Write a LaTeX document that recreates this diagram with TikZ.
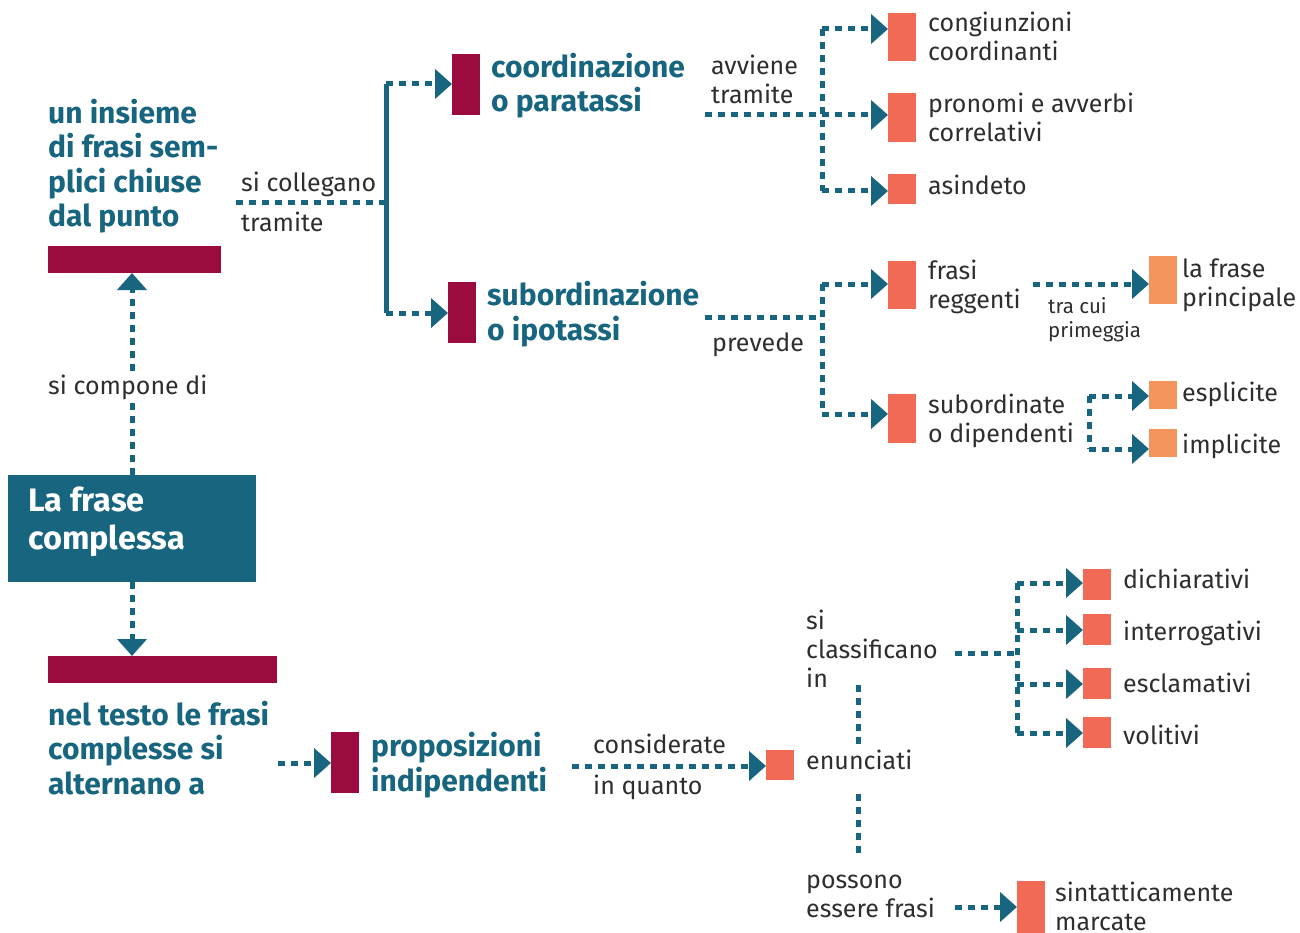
\documentclass[tikz,border=0pt]{standalone}
\usepackage{fontspec}
\setmainfont{Fira Sans}
\usetikzlibrary{arrows.meta}
\definecolor{cteal}{HTML}{17657E}
\definecolor{ccrim}{HTML}{9C0B3F}
\definecolor{csalm}{HTML}{F06A56}
\definecolor{corng}{HTML}{F5955E}
\definecolor{ctext}{HTML}{2E2E2E}
\tikzset{
  conn/.style={draw=cteal, line width=5pt, dash pattern=on 7pt off 6pt},
  arr/.style={conn, -{Triangle[length=17pt,width=29pt]}},
  solidl/.style={draw=cteal, line width=5pt},
  box/.style={inner sep=0pt, outer sep=0pt, anchor=north west, draw=none},
  crimbar/.style={box, fill=ccrim},
  salm/.style={box, fill=csalm},
  orng/.style={box, fill=corng},
  body/.style={anchor=base west, inner sep=0pt, align=left, text=ctext, yshift=-2.5pt, font=\fontsize{25}{29}\selectfont},
  small/.style={body, font=\fontsize{20.5}{24}\selectfont},
  head/.style={anchor=base west, inner sep=0pt, align=left, text=cteal, yshift=-3pt, font=\fontsize{30}{34.5}\selectfont\bfseries},
  titl/.style={anchor=base west, inner sep=0pt, align=left, text=white, yshift=-2pt, font=\fontsize{32.5}{38}\selectfont\bfseries},
}
\begin{document}
\begin{tikzpicture}[x=1pt,y=-1pt]
\useasboundingbox (0,0) rectangle (1300,933);
% main box
\node[box, fill=cteal, minimum width=248pt, minimum height=107pt] (main) at (8,475) {};
\node[titl] (maint) at (28,547) {La frase\\complessa};
% top left
\node[head] (t1) at (48,224) {un insieme\\di frasi sem-\\plici chiuse\\dal punto};
\node[crimbar, minimum width=173pt, minimum height=27pt] (bar1) at (48,246) {};
\draw[arr] (main.north) -- (main.north |- bar1.south);
\node[body, fill=white, inner sep=3pt] (lcomp) at (45,392) {si compone di};
% bottom left
\node[crimbar, minimum width=229pt, minimum height=27pt] (bar2) at (48,656) {};
\draw[arr] (main.south) -- (main.south |- bar2.north);
\node[head] (t2) at (48,791) {nel testo le frasi\\complesse si\\alternano a};
% si collegano
\coordinate (s1) at (236,203);
\coordinate (j1) at (386,203);
\coordinate (a1) at (386,84);
\coordinate (a2) at (386,313);
\draw[conn] (s1) -- (j1);
\node[body] (lcoll) at (241,189) {si collegano};
\node[body] (ltram) at (241,229) {tramite};
\draw[solidl] (a1) -- (a2);
\node[crimbar, minimum width=28pt, minimum height=61pt] (cb) at (452,54) {};
\node[crimbar, minimum width=28pt, minimum height=61pt] (sb) at (448,282) {};
\draw[arr] (a1) -- (a1 -| cb.west);
\draw[arr] (a2) -- (a2 -| sb.west);
\node[head] (ct) at (491,109) {coordinazione\\o paratassi};
\node[head] (st) at (487,337) {subordinazione\\o ipotassi};
% coordinazione branch
\coordinate (s2) at (705,115);
\coordinate (j2) at (822,115);
\coordinate (c1) at (822,29);
\coordinate (c3) at (822,191);
\draw[conn] (s2) -- (j2);
\draw[conn] (c1) -- (c3);
\node[body] (lavv) at (711,101.5) {avviene\\tramite};
\node[salm, minimum width=28pt, minimum height=48pt] (b1) at (888,13) {};
\node[salm, minimum width=28pt, minimum height=49pt] (b2) at (888,93) {};
\node[salm, minimum width=28pt, minimum height=30pt] (b3) at (888,174) {};
\draw[arr] (c1) -- (c1 -| b1.west);
\draw[arr] (j2) -- (j2 -| b2.west);
\draw[arr] (c3) -- (c3 -| b3.west);
\node[body] (tb1) at (928,58.5) {congiunzioni\\coordinanti};
\node[body] (tb2) at (928,139.5) {pronomi e avverbi\\correlativi};
\node[body] (tb3) at (928,192) {asindeto};
% subordinazione branch
\coordinate (s3) at (705,317);
\coordinate (j3) at (822,317);
\coordinate (d1) at (822,284);
\coordinate (d2) at (822,414);
\draw[conn] (s3) -- (j3);
\draw[conn] (d1) -- (d2);
\node[body] (lprev) at (712,349) {prevede};
\node[salm, minimum width=28pt, minimum height=48pt] (b4) at (888,261) {};
\node[salm, minimum width=28pt, minimum height=49pt] (b5) at (888,394) {};
\draw[arr] (d1) -- (d1 -| b4.west);
\draw[arr] (d2) -- (d2 -| b5.west);
\node[body] (tb4) at (928,305.5) {frasi\\reggenti};
\node[body] (tb5) at (928,439.5) {subordinate\\o dipendenti};
\coordinate (s4) at (1033,284);
\node[orng, minimum width=28pt, minimum height=48pt] (o1) at (1149,256) {};
\draw[arr] (s4) -- (s4 -| o1.west);
\node[small] (ltra) at (1048,335) {tra cui\\primeggia};
\node[body] (to1) at (1182,303.5) {la frase\\principale};
\coordinate (e1) at (1089,396);
\coordinate (e2) at (1089,449);
\draw[conn] (e1) -- (e2);
\node[orng, minimum width=28pt, minimum height=28pt] (o2) at (1149,381) {};
\node[orng, minimum width=28pt, minimum height=28pt] (o3) at (1149,429) {};
\draw[arr] (e1) -- (e1 -| o2.west);
\draw[arr] (e2) -- (e2 -| o3.west);
\node[body] (to2) at (1182,399) {esplicite};
\node[body] (to3) at (1182,451) {implicite};
% bottom chain
\coordinate (s5) at (278,763);
\node[crimbar, minimum width=28pt, minimum height=61pt] (pb) at (331,732) {};
\draw[arr] (s5) -- (s5 -| pb.west);
\node[head] (pt) at (371,788) {proposizioni\\indipendenti};
\coordinate (s6) at (572,766);
\node[salm, minimum width=28pt, minimum height=30pt] (en) at (766,750) {};
\draw[arr] (s6) -- (s6 -| en.west);
\node[body] (lcons) at (593,751) {considerate};
\node[body] (lquan) at (593,792) {in quanto};
\node[body] (ten) at (806,767) {enunciati};
\coordinate (v1) at (858,685);
\coordinate (v2) at (858,747);
\coordinate (v3) at (858,794);
\coordinate (v4) at (858,857);
\draw[conn] (v1) -- (v2);
\draw[conn] (v3) -- (v4);
\node[body] (lsicl) at (806,684.5) {si\\classificano\\in};
\coordinate (s7) at (955,653);
\coordinate (j7) at (1017,653);
\coordinate (f1) at (1017,583);
\coordinate (f2) at (1017,630);
\coordinate (f3) at (1017,684);
\coordinate (f4) at (1017,733);
\draw[conn] (s7) -- (j7);
\draw[conn] (f1) -- (f4);
\node[salm, minimum width=28pt, minimum height=31pt] (g1) at (1083,569) {};
\node[salm, minimum width=28pt, minimum height=31pt] (g2) at (1083,614) {};
\node[salm, minimum width=28pt, minimum height=31pt] (g3) at (1083,668) {};
\node[salm, minimum width=28pt, minimum height=31pt] (g4) at (1083,717) {};
\draw[arr] (f1) -- (f1 -| g1.west);
\draw[arr] (f2) -- (f2 -| g2.west);
\draw[arr] (f3) -- (f3 -| g3.west);
\draw[arr] (f4) -- (f4 -| g4.west);
\node[body] (tg1) at (1123,586) {dichiarativi};
\node[body] (tg2) at (1123,638) {interrogativi};
\node[body] (tg3) at (1123,690) {esclamativi};
\node[body] (tg4) at (1123,742) {volitivi};
\node[body] (lposs) at (806,914.5) {possono\\essere frasi};
\coordinate (s8) at (955,907);
\node[salm, minimum width=28pt, minimum height=52pt] (mb) at (1017,881) {};
\draw[arr] (s8) -- (s8 -| mb.west);
\node[body] (tm) at (1055,927.5) {sintatticamente\\marcate};
\end{tikzpicture}
\end{document}
